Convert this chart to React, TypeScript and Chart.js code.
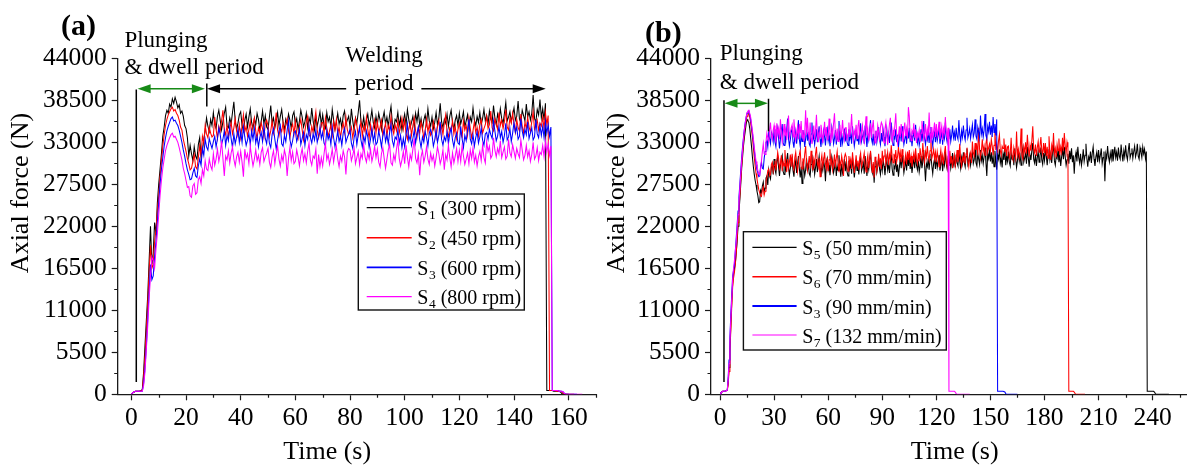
import React, { useEffect, useRef } from "react";
import { Chart, registerables } from "chart.js";

Chart.register(...registerables);

const SERIF = '"Liberation Serif", "Times New Roman", Times, serif';

// ---------------- shared axis ticks ----------------
const forceTicks = [0, 5500, 11000, 16500, 22000, 27500, 33000, 38500, 44000];
const forceMinor = [2750, 8250, 13750, 19250, 24750, 30250, 35750, 41250];

// sampling interval of every series below (s)
const SAMPLE_STEP = 0.5;

// ---------------- panel (a): rotational speed ----------------
const timeTicksA = [0, 20, 40, 60, 80, 100, 120, 140, 160];
const timeMinorA = [10, 30, 50, 70, 90, 110, 130, 150, 170];
const subsA = ["1", "2", "3", "4"];
const labelsA = ["(300 rpm)", "(450 rpm)", "(600 rpm)", "(800 rpm)"];

// axial force in kN, one sample every 0.5 s from t = 0 s
const forceS1 = [
  0, 0.2, 0.3, 0.4, 0.4, 0.4, 0.4, 0.5, 0.6, 3.0,
  6.5, 9.8, 13.0, 17.5, 22.0, 17.0, 18.5, 22.5, 21.0, 25.0,
  27.5, 29.5, 31.5, 33.8, 35.0, 36.5, 37.2, 36.8, 38.0, 37.6,
  38.7, 38.1, 38.9, 38.3, 37.5, 37.9, 36.8, 37.1, 36.4, 35.2,
  34.8, 33.6, 31.2, 32.6, 31.5, 30.6, 32.4, 31.2, 30.8, 32.7,
  33.6, 31.1, 31.9, 33.4, 34.5, 36.2, 35.1, 34.4, 36.0, 35.2,
  36.9, 35.3, 34.8, 36.4, 37.2, 35.9, 34.6, 35.7, 36.8, 37.6, 35.1, 34.9, 36.2, 35.4, 36.9, 38.3, 35.8, 34.7, 35.5, 36.6,
  37.0, 35.2, 34.5, 35.9, 36.7, 35.0, 36.3, 37.4, 35.6, 34.8, 36.1, 35.3, 36.8, 36.0, 34.6, 35.7, 37.1, 35.4, 36.5, 35.0,
  34.7, 36.3, 37.8, 35.5, 36.2, 34.9, 35.8, 36.9, 35.2, 36.4, 37.3, 35.6, 34.6, 36.0, 35.3, 36.7, 35.9, 34.8, 36.5, 37.0,
  35.4, 36.1, 34.7, 35.8, 37.2, 36.3, 35.0, 35.7, 36.8, 34.9, 36.2, 35.5, 37.5, 35.8, 34.6, 36.4, 35.1, 36.0, 37.0, 35.3,
  36.6, 35.2, 34.8, 36.9, 35.7, 36.3, 35.0, 37.3, 35.9, 34.7, 35.6, 36.8, 35.4, 36.1, 34.9, 36.5, 37.1, 35.3, 35.9, 36.4,
  35.0, 37.4, 35.8, 34.6, 36.2, 35.5, 36.9, 38.5, 35.7, 35.1, 36.3, 34.8, 35.9, 36.7, 35.2, 36.0, 37.2, 35.6, 34.9, 36.4,
  35.3, 36.8, 35.9, 34.7, 36.1, 37.0, 35.4, 36.3, 35.1, 36.6, 37.7, 35.5, 34.8, 36.0, 35.7, 36.9, 35.2, 36.2, 34.6, 35.8,
  36.7, 35.3, 37.3, 36.0, 34.9, 35.6, 36.4, 35.0, 36.8, 35.7, 37.1, 35.2, 36.1, 34.7, 35.9, 36.6, 35.4, 37.4, 35.8, 35.1,
  36.3, 34.8, 35.6, 36.9, 35.3, 36.2, 38.1, 35.7, 34.9, 36.0, 35.5, 36.7, 35.1, 36.4, 37.2, 35.6, 34.7, 35.9, 36.5, 35.2,
  36.8, 35.4, 36.1, 37.0, 35.0, 35.8, 36.6, 34.9, 36.3, 35.7, 37.5, 35.9, 35.2, 36.4, 35.6, 36.9, 35.3, 36.1, 37.3, 35.8,
  36.5, 35.4, 37.1, 36.0, 35.6, 37.8, 36.2, 35.3, 36.7, 35.9, 37.4, 36.1, 35.5, 36.8, 38.2, 35.8, 36.3, 37.0, 35.7, 36.6,
  37.5, 35.9, 36.4, 38.4, 36.0, 35.6, 37.2, 36.5, 35.8, 38.0, 36.3, 37.0, 35.9, 36.8, 39.2, 36.1, 35.7, 37.3, 36.6, 38.6,
  36.2, 37.4, 35.9, 38.1,
  0.5, 0.5, 0.5, 0.5, 0.5, 0.4, 0.4, 0.4, 0.4, 0.4, 0.3, 0.1, 0, 0, 0, 0, 0,
];
const forceS2 = [
  0, 0.2, 0.3, 0.4, 0.4, 0.4, 0.4, 0.5, 0.5, 2.5,
  5.0, 8.5, 12.0, 16.0, 19.5, 16.5, 17.0, 20.0, 21.5, 24.0,
  26.0, 28.5, 30.5, 32.5, 34.0, 35.2, 36.0, 36.6, 37.0, 37.4,
  37.6, 37.1, 37.3, 36.8, 36.5, 35.9, 35.0, 34.6, 33.4, 32.6,
  31.8, 30.9, 30.2, 29.4, 29.6, 30.5, 31.4, 29.8, 29.5, 31.0,
  32.5, 31.2, 33.8, 32.9, 35.2, 34.1, 33.6, 35.0, 34.2, 33.7,
  33.9, 36.3, 34.7, 33.5, 35.1, 34.4, 35.8, 37.2, 34.6, 34.0, 35.2, 33.7, 34.8, 35.6, 34.1, 34.9, 36.1, 34.5, 33.8, 35.3,
  33.6, 35.2, 36.6, 34.4, 35.1, 33.8, 34.7, 35.8, 34.1, 35.3, 36.2, 34.5, 33.5, 34.9, 34.2, 35.6, 34.8, 33.7, 35.4, 35.9,
  35.2, 33.7, 34.5, 35.8, 34.2, 35.1, 36.9, 34.6, 33.8, 34.9, 34.4, 35.6, 34.0, 35.3, 36.1, 34.5, 33.6, 34.8, 35.4, 34.1,
  35.8, 34.1, 33.5, 35.2, 36.0, 34.6, 33.3, 34.5, 35.7, 36.4, 34.0, 33.7, 35.1, 34.3, 35.8, 37.0, 34.6, 33.6, 34.4, 35.5,
  35.6, 34.2, 36.2, 34.9, 33.8, 34.5, 35.3, 33.9, 35.7, 34.6, 36.0, 34.1, 35.0, 33.6, 34.8, 35.5, 34.3, 36.3, 34.7, 34.0,
  34.3, 35.0, 33.6, 34.7, 36.1, 35.2, 33.9, 34.6, 35.7, 33.8, 35.1, 34.4, 36.3, 34.7, 33.5, 35.3, 34.0, 34.9, 35.9, 34.2,
  35.7, 34.3, 35.0, 35.9, 33.9, 34.7, 35.5, 33.8, 35.2, 34.6, 36.4, 34.8, 34.1, 35.3, 34.5, 35.8, 34.2, 35.0, 36.2, 34.7,
  35.9, 34.1, 33.4, 34.8, 35.6, 33.9, 35.2, 36.2, 34.5, 33.6, 35.0, 34.2, 35.7, 34.9, 33.5, 34.6, 36.0, 34.3, 35.4, 33.9,
  34.2, 35.7, 34.8, 33.6, 35.0, 35.9, 34.3, 35.2, 34.0, 35.5, 36.6, 34.4, 33.7, 34.9, 34.6, 35.8, 34.1, 35.1, 33.5, 34.7,
  35.5, 34.1, 33.7, 35.8, 34.6, 35.2, 33.9, 36.2, 34.8, 33.6, 34.5, 35.7, 34.3, 35.0, 33.8, 35.4, 36.0, 34.2, 34.8, 35.3,
  36.4, 34.8, 35.3, 37.1, 34.9, 34.5, 36.1, 35.4, 34.7, 36.9, 35.2, 35.9, 34.8, 35.7, 37.3, 35.0, 34.6, 36.2, 35.5, 36.8,
  35.4, 34.3, 36.0, 34.9, 34.5, 36.7, 35.1, 34.2, 35.6, 34.8, 36.3, 35.0, 34.4, 35.7, 37.0, 34.7, 35.2, 35.9, 34.6, 35.5,
  35.1, 36.3, 34.8, 36.9, 35.4, 36.5,
  0.5, 0.5, 0.5, 0.5, 0.5, 0.4, 0.4, 0.4, 0.4, 0.3, 0.1, 0, 0, 0, 0, 0, 0, 0, 0,
];
const forceS3a = [
  0, 0.2, 0.3, 0.4, 0.4, 0.4, 0.4, 0.4, 0.4, 1.5,
  3.5, 6.5, 10.0, 13.5, 17.0, 15.0, 15.5, 18.0, 20.0, 22.5,
  25.0, 27.5, 29.5, 31.0, 32.5, 33.6, 34.5, 35.1, 35.6, 36.1,
  36.3, 35.8, 35.9, 35.5, 35.2, 34.6, 33.8, 33.0, 32.0, 31.2,
  30.2, 29.4, 28.8, 28.1, 28.2, 29.0, 29.6, 28.6, 28.4, 29.9,
  30.8, 30.0, 32.2, 31.3, 33.4, 32.4, 32.0, 33.5, 32.8, 32.2,
  33.1, 33.8, 32.4, 33.5, 34.9, 34.0, 32.7, 33.4, 34.5, 32.6, 33.9, 33.2, 35.1, 33.5, 32.3, 34.1, 32.8, 33.7, 34.7, 33.0,
  34.4, 33.0, 35.0, 33.7, 32.6, 33.3, 34.1, 32.7, 34.5, 33.4, 34.8, 32.9, 33.8, 32.4, 33.6, 34.3, 33.1, 35.1, 33.5, 32.8,
  34.6, 32.9, 32.3, 34.0, 34.8, 33.4, 32.1, 33.3, 34.5, 35.2, 32.8, 32.5, 33.9, 33.1, 34.6, 35.8, 33.4, 32.4, 33.2, 34.3,
  34.5, 33.1, 33.8, 34.7, 32.7, 33.5, 34.3, 32.6, 34.0, 33.4, 35.2, 33.6, 32.9, 34.1, 33.3, 34.6, 33.0, 33.8, 35.0, 33.5,
  34.3, 32.9, 32.5, 34.6, 33.4, 34.0, 32.7, 35.0, 33.6, 32.4, 33.3, 34.5, 33.1, 33.8, 32.6, 34.2, 34.8, 33.0, 33.6, 34.1,
  34.7, 32.9, 32.2, 33.6, 34.4, 32.7, 34.0, 35.0, 33.3, 32.4, 33.8, 33.0, 34.5, 33.7, 32.3, 33.4, 34.8, 33.1, 34.2, 32.7,
  33.0, 34.5, 33.6, 32.4, 33.8, 34.7, 33.1, 34.0, 32.8, 34.3, 35.4, 33.2, 32.5, 33.7, 33.4, 34.6, 32.9, 33.9, 32.3, 33.5,
  32.4, 34.0, 35.4, 33.2, 33.9, 32.6, 33.5, 34.6, 32.9, 34.1, 35.0, 33.3, 32.3, 33.7, 33.0, 34.4, 33.6, 32.5, 34.2, 34.7,
  34.0, 32.5, 33.3, 34.6, 33.0, 33.9, 35.7, 33.4, 32.6, 33.7, 33.2, 34.4, 32.8, 34.1, 34.9, 33.3, 32.4, 33.6, 34.2, 32.9,
  32.7, 35.1, 33.5, 32.3, 33.9, 33.2, 34.6, 36.0, 33.4, 32.8, 34.0, 32.5, 33.6, 34.4, 32.9, 33.7, 34.9, 33.3, 32.6, 34.1,
  34.3, 33.4, 34.7, 34.0, 33.5, 35.8, 34.5, 33.2, 33.8, 35.1, 33.6, 34.4, 33.0, 33.9, 35.5, 33.3, 33.7, 34.8, 33.1, 34.2,
  35.6, 34.3, 35.0, 33.4, 33.8, 36.1, 34.5, 33.6, 34.7, 34.0, 35.7, 33.5, 34.2, 34.9, 33.3, 33.7, 35.9, 34.1, 33.6, 35.2,
  33.9, 35.1, 33.6, 35.7, 34.2, 35.3, 33.8, 35.0,
  0.5, 0.5, 0.5, 0.5, 0.5, 0.4, 0.4, 0.4, 0.3, 0.1, 0, 0, 0, 0, 0, 0, 0, 0, 0,
];
const forceS4 = [
  0, 0.2, 0.3, 0.4, 0.4, 0.4, 0.4, 0.4, 0.4, 1.2,
  3.0, 6.0, 9.0, 12.5, 15.5, 18.0, 17.5, 16.5, 19.0, 21.0,
  23.5, 26.0, 28.0, 29.6, 30.8, 31.9, 32.6, 33.1, 33.6, 34.0,
  34.2, 33.7, 33.8, 33.4, 33.0, 32.3, 31.5, 30.7, 29.6, 28.9,
  28.0, 27.1, 27.2, 26.0, 25.8, 27.3, 27.6, 26.2, 26.4, 28.1,
  28.5, 27.6, 29.4, 28.6, 30.6, 29.5, 29.3, 30.8, 29.9, 29.4,
  31.5, 30.0, 30.8, 32.1, 30.5, 31.4, 33.2, 30.9, 28.6, 31.2, 30.7, 31.9, 30.3, 31.6, 32.4, 30.8, 29.9, 31.1, 31.7, 30.4,
  31.8, 30.4, 28.5, 32.1, 30.9, 31.5, 30.2, 32.5, 31.1, 29.9, 30.8, 32.0, 30.6, 31.3, 30.1, 31.7, 32.3, 30.5, 31.1, 31.6,
  32.2, 30.4, 29.7, 31.1, 31.9, 30.2, 31.5, 32.5, 30.8, 29.9, 31.3, 30.5, 32.0, 31.2, 28.6, 30.9, 32.3, 30.6, 31.7, 30.2,
  30.5, 32.0, 31.1, 29.9, 31.3, 32.2, 30.6, 31.5, 30.3, 31.8, 32.9, 30.7, 30.0, 31.2, 30.9, 32.1, 28.9, 31.4, 29.8, 31.0,
  29.9, 31.5, 32.9, 30.7, 31.4, 30.1, 31.0, 32.1, 30.4, 31.6, 32.5, 30.8, 29.8, 31.2, 30.5, 31.9, 31.1, 28.8, 31.7, 32.2,
  32.0, 30.6, 31.3, 32.2, 30.2, 31.0, 31.8, 30.1, 31.5, 30.9, 32.7, 31.1, 30.4, 31.6, 30.8, 32.1, 30.5, 31.3, 32.5, 31.0,
  32.1, 30.4, 29.8, 31.5, 32.3, 30.9, 29.6, 30.8, 32.0, 32.7, 30.3, 30.0, 31.4, 30.6, 32.1, 33.3, 30.9, 29.9, 30.7, 31.8,
  30.2, 32.6, 31.0, 29.8, 31.4, 30.7, 32.1, 33.5, 30.9, 30.3, 31.5, 28.7, 31.1, 31.9, 30.4, 31.2, 32.4, 30.8, 30.1, 31.6,
  30.6, 31.3, 29.9, 31.0, 32.4, 31.5, 30.2, 30.9, 32.0, 29.4, 31.4, 30.7, 32.6, 31.0, 29.8, 31.6, 30.3, 31.2, 32.2, 30.5,
  31.9, 30.5, 32.5, 31.2, 30.1, 30.8, 31.6, 30.2, 32.0, 30.9, 32.3, 30.4, 31.3, 29.9, 31.1, 31.8, 30.6, 32.6, 31.0, 30.3,
  33.1, 31.8, 32.5, 30.9, 31.3, 33.6, 32.0, 31.1, 32.2, 31.5, 33.2, 31.0, 31.7, 32.4, 30.8, 31.2, 33.4, 31.6, 31.1, 32.7,
  31.8, 30.9, 32.2, 31.5, 31.0, 33.3, 32.0, 30.7, 31.3, 32.6, 31.1, 31.9, 30.5, 31.4, 33.0, 30.8, 31.2, 32.3, 30.6, 31.7,
  31.4, 32.6, 31.1, 33.2, 31.7, 32.8, 31.3, 32.5,
  0.5, 0.5, 0.5, 0.5, 0.5, 0.4, 0.4, 0.4, 0.3, 0.1, 0, 0, 0, 0, 0, 0, 0, 0, 0, 0, 0, 0, 0,
];

// ---------------- panel (b): traverse speed ----------------
const timeTicksB = [0, 30, 60, 90, 120, 150, 180, 210, 240];
const timeMinorB = [15, 45, 75, 105, 135, 165, 195, 225, 255];
const subsB = ["5", "6", "3", "7"];
const labelsB = ["(50 mm/min)", "(70 mm/min)", "(90 mm/min)", "(132 mm/min)"];

const forceS5 = [
  0, 0.2, 0.3, 0.4, 0.4, 0.4, 0.4, 0.5, 0.5, 1.5,
  3.5, 6.0, 9.0, 12.0, 14.5, 15.8, 16.5, 17.2, 18.5, 20.0,
  22.0, 23.8, 25.5, 27.5, 29.5, 31.0, 32.5, 33.6, 34.5, 35.4,
  36.0, 35.8, 35.6, 34.8, 33.6, 32.4, 31.0, 29.8, 28.8, 28.0,
  27.4, 26.6, 26.0, 25.1, 25.2, 26.7, 26.4, 27.3, 27.8, 26.5,
  27.0, 28.3, 28.6, 27.4, 29.4, 28.6, 28.2, 29.7, 30.1, 28.8,
  30.8, 29.4, 28.9, 30.5, 31.1, 29.7, 28.6, 29.9, 30.9, 31.3, 29.2, 28.8, 30.3, 29.5, 30.7, 31.6, 29.8, 28.7, 29.6, 30.6,
  31.0, 29.3, 28.5, 29.9, 30.6, 29.0, 30.2, 31.2, 29.6, 28.4, 29.8, 27.6, 30.5, 29.7, 28.6, 29.4, 30.9, 29.2, 30.3, 28.9,
  28.6, 30.1, 31.4, 29.5, 30.2, 28.8, 29.7, 30.8, 29.1, 30.3, 31.2, 29.6, 28.5, 29.9, 29.3, 30.6, 29.8, 27.9, 30.4, 30.9,
  29.4, 30.0, 28.7, 29.8, 31.1, 30.3, 29.0, 29.6, 30.7, 28.6, 29.9, 29.3, 31.3, 29.7, 28.5, 30.2, 29.0, 29.8, 30.8, 29.2,
  30.5, 29.1, 28.6, 30.6, 29.6, 30.2, 28.9, 31.0, 29.7, 28.4, 29.5, 30.7, 29.3, 30.0, 28.8, 30.4, 31.0, 29.2, 29.7, 30.3,
  28.9, 31.2, 29.8, 28.6, 30.1, 29.4, 30.8, 31.7, 29.6, 29.0, 30.2, 27.7, 29.8, 30.6, 29.1, 29.9, 31.0, 29.5, 28.8, 30.3,
  29.3, 30.7, 29.9, 28.7, 30.0, 30.9, 29.4, 30.2, 29.0, 30.5, 31.4, 29.5, 28.7, 29.9, 29.6, 30.8, 29.1, 30.1, 28.5, 29.7,
  30.9, 29.6, 31.3, 30.2, 29.0, 29.8, 30.6, 29.3, 31.0, 29.9, 31.2, 29.5, 30.4, 29.0, 30.1, 30.8, 29.6, 31.4, 30.0, 29.4,
  30.6, 29.1, 29.9, 31.2, 29.6, 30.4, 32.0, 29.9, 27.9, 30.2, 29.8, 30.9, 29.4, 30.7, 31.5, 29.9, 28.9, 30.2, 30.8, 29.5,
  31.1, 29.7, 30.4, 31.3, 29.3, 30.1, 30.9, 29.2, 30.6, 30.0, 31.8, 30.2, 29.5, 30.7, 29.9, 31.2, 29.6, 30.4, 31.6, 30.1,
  30.8, 29.7, 31.4, 30.3, 29.9, 32.0, 30.5, 29.6, 31.0, 30.2, 31.7, 30.4, 29.8, 31.1, 32.2, 30.1, 30.6, 31.3, 30.0, 30.9,
  31.6, 30.2, 30.7, 32.1, 30.3, 29.9, 31.5, 30.8, 30.1, 32.0, 30.6, 31.3, 30.2, 31.1, 32.3, 30.4, 28.6, 31.6, 30.9, 31.9,
  30.5, 31.7, 30.2, 31.2, 29.8, 31.9, 30.6, 29.4, 31.4, 30.8, 32.1, 30.3, 31.0, 29.7, 31.5, 30.7, 32.4, 30.0, 31.2, 30.5,
  31.8, 30.4, 29.9, 31.6, 30.8, 31.3, 30.0, 32.2, 30.9, 29.7, 30.6, 31.9, 30.5, 31.2, 30.0, 31.6, 32.3, 30.4, 31.0, 31.5,
  30.2, 32.4, 31.0, 29.8, 31.3, 30.7, 32.0, 32.9, 30.8, 30.3, 31.4, 29.9, 31.0, 31.8, 30.4, 31.2, 32.3, 30.7, 30.1, 31.6,
  30.6, 32.0, 31.2, 30.0, 31.3, 32.1, 30.7, 31.5, 30.3, 31.8, 32.6, 30.6, 30.0, 31.2, 30.9, 32.0, 30.4, 31.4, 29.9, 31.1,
  32.1, 30.8, 32.4, 31.1, 30.0, 30.7, 31.5, 30.2, 31.9, 30.8, 32.2, 30.4, 31.3, 28.9, 31.0, 31.7, 30.5, 32.4, 31.0, 30.3,
  31.5, 30.0, 30.8, 32.1, 30.5, 31.3, 32.8, 30.9, 29.8, 31.1, 30.7, 31.8, 30.3, 31.6, 32.4, 30.8, 29.9, 31.1, 31.7, 30.4,
  32.0, 30.6, 31.3, 32.2, 30.2, 31.0, 31.8, 27.9, 31.5, 30.9, 32.5, 31.1, 30.4, 31.6, 30.8, 32.1, 30.5, 31.3, 32.4, 31.0,
  31.7, 30.6, 32.3, 31.2, 30.8, 32.7, 31.4, 30.5, 31.9, 31.1, 32.6, 31.3, 30.7, 32.0, 32.9, 31.0, 31.5, 32.2, 30.9, 31.8,
  32.5, 31.1, 31.6, 32.8, 31.2, 30.8, 32.3, 31.7, 31.0, 32.4, 31.5, 32.1, 30.9, 31.8,
  0.4, 0.4, 0.4, 0.4, 0.4, 0.4, 0.4, 0.4, 0.3, 0.1, 0, 0, 0, 0, 0, 0, 0, 0, 0, 0, 0, 0, 0, 0, 0,
];
const forceS6 = [
  0, 0.2, 0.3, 0.4, 0.4, 0.4, 0.4, 0.5, 0.5, 1.2,
  3.0, 5.5, 8.5, 11.5, 14.0, 15.2, 16.0, 17.0, 18.5, 20.5,
  22.5, 24.3, 26.0, 28.0, 30.0, 31.6, 33.0, 34.2, 35.2, 35.9,
  36.4, 36.6, 36.8, 36.3, 35.5, 34.6, 33.6, 32.3, 31.0, 29.9,
  28.9, 28.2, 27.5, 26.8, 26.4, 26.0, 25.9, 26.8, 27.2, 26.1,
  26.6, 27.9, 28.4, 29.3, 29.5, 28.6, 28.8, 30.1, 30.4, 29.2,
  30.0, 30.6, 29.3, 30.4, 31.7, 30.9, 29.6, 30.2, 31.3, 29.2, 30.5, 29.9, 32.0, 30.3, 29.1, 30.8, 29.6, 30.4, 31.4, 29.8,
  31.5, 29.9, 29.4, 31.0, 31.7, 30.3, 29.2, 30.4, 31.4, 32.0, 29.8, 29.5, 30.9, 30.1, 31.5, 32.5, 30.4, 29.3, 30.2, 31.2,
  29.6, 31.9, 30.5, 29.3, 30.8, 30.1, 31.5, 32.4, 30.3, 29.7, 30.9, 28.5, 30.5, 31.3, 29.8, 30.6, 31.7, 30.2, 29.5, 31.0,
  29.2, 30.7, 32.1, 30.1, 30.8, 29.4, 30.3, 31.4, 29.7, 30.9, 31.8, 30.2, 29.1, 30.5, 29.9, 31.2, 30.4, 28.6, 31.0, 31.5,
  31.1, 29.7, 29.2, 31.2, 30.2, 30.8, 29.5, 31.7, 30.3, 29.0, 30.1, 31.3, 29.9, 30.6, 29.4, 31.0, 31.6, 29.8, 30.3, 30.9,
  31.6, 29.9, 29.1, 30.5, 31.3, 29.6, 30.8, 31.9, 30.2, 29.0, 30.4, 28.4, 31.1, 30.3, 29.2, 30.0, 31.5, 29.8, 30.9, 29.5,
  31.9, 30.5, 31.2, 32.1, 30.1, 30.9, 31.7, 30.0, 31.4, 30.8, 32.6, 31.0, 30.3, 31.5, 30.7, 32.0, 30.4, 31.2, 32.4, 30.9,
  31.7, 30.4, 32.1, 31.0, 29.8, 30.6, 31.4, 30.1, 31.8, 30.7, 32.0, 30.3, 31.2, 29.8, 30.9, 31.6, 30.4, 32.2, 30.8, 30.2,
  31.6, 30.5, 32.2, 31.1, 30.7, 32.9, 31.3, 30.4, 31.8, 31.0, 32.5, 31.2, 30.6, 31.9, 33.3, 30.9, 31.4, 32.1, 30.8, 31.7,
  30.4, 31.8, 31.0, 29.8, 31.1, 32.0, 30.5, 31.3, 30.1, 31.6, 32.5, 30.6, 29.8, 31.0, 30.7, 31.9, 30.2, 31.2, 29.6, 30.8,
  31.4, 29.9, 30.7, 32.0, 30.4, 31.2, 32.8, 30.7, 29.9, 31.0, 30.6, 31.7, 30.2, 31.5, 32.3, 30.7, 29.8, 31.0, 31.6, 30.3,
  33.1, 31.6, 31.2, 32.9, 32.0, 32.6, 31.3, 34.9, 32.1, 31.0, 31.9, 33.4, 31.8, 32.5, 31.3, 32.8, 33.6, 31.7, 32.3, 32.8,
  31.9, 33.4, 32.5, 31.3, 32.6, 34.6, 32.0, 32.8, 31.6, 33.2, 34.0, 31.9, 31.3, 32.5, 32.2, 33.5, 31.7, 32.7, 31.2, 32.4,
  32.5, 31.0, 31.5, 33.6, 31.1, 30.7, 32.3, 31.6, 30.9, 34.4, 31.4, 32.1, 31.0, 31.9, 34.8, 31.2, 30.8, 32.4, 31.7, 33.0,
  31.5, 34.0, 32.3, 31.1, 32.6, 31.9, 33.3, 35.1, 32.1, 31.6, 32.7, 31.2, 32.3, 33.1, 31.7, 32.5, 33.7, 32.0, 31.4, 32.9,
  31.6, 32.9, 31.2, 32.4, 30.9, 33.8, 31.8, 30.7, 32.6, 31.9, 34.2, 31.5, 32.2, 31.0, 32.7, 31.9, 33.5, 31.3, 32.4, 31.7,
  33.6, 31.9, 34.2, 32.5, 31.6, 33.0, 32.3,
  0.4, 0.4, 0.4, 0.4, 0.4, 0.4, 0.3, 0.1, 0, 0, 0, 0, 0, 0, 0, 0, 0, 0, 0, 0,
];
const forceS3b = [
  0, 0.2, 0.3, 0.4, 0.4, 0.4, 0.4, 0.5, 0.5, 2.0,
  4.5, 7.5, 10.5, 13.0, 15.5, 16.2, 17.0, 18.8, 20.5, 22.2,
  24.0, 25.8, 27.5, 29.3, 31.0, 32.4, 33.6, 34.7, 35.6, 36.3,
  36.8, 37.0, 37.1, 36.6, 36.0, 35.1, 34.2, 33.1, 32.0, 31.0,
  30.1, 29.4, 29.0, 28.5, 28.6, 29.8, 30.4, 29.6, 29.5, 30.9,
  31.8, 33.0, 33.2, 32.4, 34.4, 33.5, 32.8, 34.3, 34.0, 33.1,
  34.7, 33.0, 32.4, 34.1, 34.9, 33.5, 32.2, 33.4, 34.6, 35.4, 32.9, 32.6, 34.0, 33.2, 34.7, 36.1, 33.5, 32.5, 33.3, 34.4,
  34.8, 33.0, 32.3, 33.7, 34.5, 32.8, 34.1, 35.9, 33.4, 32.5, 33.9, 33.1, 34.6, 33.8, 32.4, 33.5, 34.9, 33.2, 34.3, 32.8,
  32.5, 34.1, 35.6, 33.3, 34.0, 32.7, 33.6, 34.7, 33.0, 34.2, 35.1, 33.4, 32.4, 33.8, 33.1, 34.5, 33.7, 32.6, 34.3, 34.8,
  33.2, 33.9, 32.5, 33.6, 35.0, 34.1, 32.8, 33.5, 34.6, 32.7, 34.0, 33.3, 35.8, 33.6, 32.4, 34.2, 32.9, 33.8, 34.8, 33.1,
  34.4, 33.0, 32.6, 34.7, 33.5, 34.1, 32.8, 35.1, 33.7, 32.5, 33.4, 34.6, 33.2, 33.9, 32.7, 34.3, 35.5, 33.1, 33.7, 34.2,
  32.8, 35.2, 33.6, 32.4, 34.0, 33.3, 34.7, 35.9, 33.5, 32.9, 34.1, 32.6, 33.7, 34.5, 33.0, 33.8, 35.0, 33.4, 32.7, 34.2,
  33.1, 34.6, 33.7, 32.5, 33.9, 34.8, 33.2, 34.1, 32.9, 34.4, 35.6, 33.3, 32.6, 33.8, 33.5, 34.7, 33.0, 34.0, 32.4, 33.6,
  34.5, 33.1, 35.1, 33.8, 32.7, 33.4, 34.2, 32.8, 34.6, 33.5, 34.9, 33.0, 33.9, 32.5, 33.7, 34.4, 33.2, 35.3, 33.6, 32.9,
  34.1, 32.6, 33.4, 34.7, 33.1, 34.0, 35.8, 33.5, 32.7, 33.8, 33.3, 34.5, 32.9, 34.2, 35.0, 33.4, 32.5, 33.7, 34.3, 33.0,
  34.6, 33.2, 33.9, 34.8, 32.8, 33.6, 34.4, 32.7, 34.1, 33.5, 35.6, 33.7, 33.0, 34.2, 33.4, 34.7, 33.1, 33.9, 35.2, 33.6,
  34.3, 33.2, 34.9, 33.8, 33.4, 35.9, 34.0, 33.1, 34.5, 33.7, 35.2, 33.9, 33.3, 34.6, 36.2, 33.6, 34.1, 34.8, 33.5, 34.4,
  35.3, 33.7, 34.2, 36.0, 33.8, 33.4, 35.0, 34.3, 33.6, 36.5, 34.1, 34.8, 33.7, 34.6, 36.7, 33.9, 33.5, 35.1, 34.4, 35.7,
  34.0, 35.2, 33.7, 36.3, 34.3, 35.4, 33.9, 36.0,
  0.4, 0.4, 0.4, 0.4, 0.4, 0.4, 0.4, 0.4, 0.3, 0.1, 0, 0, 0, 0, 0, 0, 0, 0, 0, 0, 0, 0, 0,
];
const forceS7 = [
  0, 0.2, 0.3, 0.4, 0.4, 0.4, 0.4, 0.5, 0.5, 1.8,
  4.0, 7.0, 10.0, 12.5, 15.0, 16.5, 17.5, 18.8, 20.0, 21.8,
  23.5, 25.2, 27.0, 28.8, 30.5, 32.0, 33.4, 34.6, 35.5, 36.3,
  36.9, 37.1, 37.2, 36.8, 36.3, 35.4, 34.5, 33.5, 32.4, 31.4,
  30.5, 29.8, 29.3, 28.9, 28.7, 29.5, 30.6, 31.8, 32.8, 31.5,
  31.4, 33.0, 34.2, 33.6, 33.0, 34.6, 35.6, 33.9, 33.4, 34.6,
  35.2, 33.6, 33.1, 35.5, 34.1, 34.8, 33.4, 36.0, 34.4, 33.0, 34.0, 35.4, 33.8, 34.6, 33.3, 35.1, 36.5, 33.7, 34.3, 34.9,
  35.3, 33.7, 36.0, 34.5, 33.3, 34.1, 35.0, 33.4, 35.4, 34.2, 35.8, 33.6, 34.6, 33.1, 34.4, 37.2, 33.9, 36.2, 34.3, 33.5,
  35.6, 33.6, 32.8, 34.3, 35.2, 33.3, 34.7, 36.6, 34.0, 33.0, 34.5, 33.7, 35.3, 34.4, 32.9, 34.1, 35.7, 33.8, 35.0, 33.3,
  33.4, 36.1, 34.3, 32.9, 34.7, 33.9, 35.5, 36.8, 34.1, 33.5, 34.8, 33.1, 34.4, 35.3, 33.6, 34.5, 35.9, 34.0, 33.3, 34.9,
  34.9, 33.2, 34.1, 35.6, 33.7, 34.7, 36.7, 34.2, 33.3, 34.5, 34.0, 35.3, 33.5, 35.0, 35.9, 34.1, 33.1, 34.4, 35.2, 33.6,
  33.0, 34.8, 36.4, 33.9, 34.7, 33.2, 34.2, 35.5, 33.6, 34.9, 35.9, 34.0, 32.9, 34.5, 33.7, 35.2, 34.3, 33.1, 35.0, 35.6,
  35.3, 33.6, 32.9, 34.8, 35.6, 34.0, 32.7, 34.1, 35.4, 36.2, 33.5, 33.1, 34.6, 33.8, 35.3, 36.8, 34.1, 32.9, 33.9, 35.1,
  33.7, 35.4, 34.4, 33.0, 34.6, 35.6, 33.8, 34.8, 33.5, 37.6, 36.4, 33.9, 33.2, 34.5, 34.2, 35.5, 33.6, 34.7, 32.9, 34.2,
  33.8, 34.6, 33.0, 34.2, 35.8, 34.8, 33.4, 34.1, 35.4, 33.2, 34.7, 33.9, 36.9, 34.2, 32.9, 35.0, 33.5, 34.5, 35.6, 33.7,
  35.4, 33.9, 34.6, 35.7, 33.4, 34.3, 35.1, 33.3, 34.8, 34.2, 36.3, 34.4, 33.7, 34.9,
  0.4, 0.4, 0.4, 0.4, 0.4, 0.4, 0.4, 0.3, 0.1, 0, 0, 0, 0, 0, 0, 0, 0, 0, 0, 0, 0, 0, 0, 0,
];

// ---------------- layout / style configuration ----------------
type Series = { data: number[]; color: string; sub: string; label: string; legendWidth: number };

type Panel = {
  left: number;
  width: number;
  height: number;
  area: { left: number; right: number; top: number; bottom: number };
  xMin: number;
  xMax: number;
  xTicks: number[];
  xMinor: number[];
  series: Series[];
  legend: { x0: number; y0: number; x1: number; y1: number; lx0: number; lx1: number; tx: number; rows: number[] };
  letter: { text: string; x: number; y: number };
  plunge: { x: number; y1: number; y2: number };
  xTitle: { x: number; y: number };
  yTitle: { x: number; y: number };
  startLine: { x: number; y0: number; y1: number };
  green: { x0: number; x1: number; y: number };
  endLine: { x: number; y0: number; y1: number };
  welding?: { x0: number; x1: number; y: number; gap0: number; gap1: number; tx: number; ty1: number; ty2: number };
};

const panelA: Panel = {
  left: 0,
  width: 600,
  height: 465,
  area: { left: 117.7, right: 596, top: 58.3, bottom: 394.3 },
  xMin: -5,
  xMax: 170,
  xTicks: timeTicksA,
  xMinor: timeMinorA,
  series: [
    { data: forceS1, color: "#000000", sub: subsA[0], label: labelsA[0], legendWidth: 1.2 },
    { data: forceS2, color: "#ff0000", sub: subsA[1], label: labelsA[1], legendWidth: 1.5 },
    { data: forceS3a, color: "#0000ff", sub: subsA[2], label: labelsA[2], legendWidth: 1.8 },
    { data: forceS4, color: "#ff00ff", sub: subsA[3], label: labelsA[3], legendWidth: 1.2 },
  ],
  legend: { x0: 358.3, y0: 194, x1: 524.3, y1: 310, lx0: 366.7, lx1: 411.7, tx: 417.3, rows: [207.7, 237.7, 267.3, 296.7] },
  letter: { text: "(a)", x: 61, y: 35 },
  plunge: { x: 124.4, y1: 47, y2: 74 },
  xTitle: { x: 327.2, y: 451.7 },
  yTitle: { x: 21, y: 193 },
  startLine: { x: 1.8, y0: 1600, y1: 39900 },
  green: { x0: 2.3, x1: 26.9, y: 40000 },
  endLine: { x: 27.6, y0: 37700, y1: 40700 },
  welding: { x0: 27.7, x1: 151.6, y: 40000, gap0: 78.6, gap1: 106.1, tx: 384, ty1: 62, ty2: 90 },
};

const panelB: Panel = {
  left: 600,
  width: 587,
  height: 465,
  area: { left: 111, right: 586, top: 58.3, bottom: 394.3 },
  xMin: -5,
  xMax: 258.5,
  xTicks: timeTicksB,
  xMinor: timeMinorB,
  series: [
    { data: forceS5, color: "#000000", sub: subsB[0], label: labelsB[0], legendWidth: 1.2 },
    { data: forceS6, color: "#ff0000", sub: subsB[1], label: labelsB[1], legendWidth: 1.5 },
    { data: forceS3b, color: "#0000ff", sub: subsB[2], label: labelsB[2], legendWidth: 1.8 },
    { data: forceS7, color: "#ff00ff", sub: subsB[3], label: labelsB[3], legendWidth: 1.2 },
  ],
  legend: { x0: 143.4, y0: 231.7, x1: 346.3, y1: 350, lx0: 152.4, lx1: 196.6, tx: 202.2, rows: [247.3, 276.7, 306, 335] },
  letter: { text: "(b)", x: 45, y: 42 },
  plunge: { x: 119.8, y1: 60, y2: 89 },
  xTitle: { x: 354.7, y: 451.7 },
  yTitle: { x: 16.8, y: 193 },
  startLine: { x: 2.2, y0: 1600, y1: 38500 },
  green: { x0: 2.5, x1: 26.6, y: 38100 },
  endLine: { x: 26.9, y0: 34400, y1: 38700 },
};

const AXIS_COLOR = "#1a1a1a";
const GREEN = "#178a17";

function arrowHead(ctx: CanvasRenderingContext2D, tipX: number, y: number, dir: number, color: string) {
  ctx.fillStyle = color;
  ctx.beginPath();
  ctx.moveTo(tipX, y);
  ctx.lineTo(tipX - dir * 13, y - 4.5);
  ctx.lineTo(tipX - dir * 13, y + 4.5);
  ctx.closePath();
  ctx.fill();
}

function makeDecor(p: Panel) {
  return {
    id: "decor",
    afterDraw(chart: any) {
      const ctx: CanvasRenderingContext2D = chart.ctx;
      const xs = chart.scales.x;
      const ys = chart.scales.y;
      const X = (v: number) => xs.getPixelForValue(v);
      const Y = (v: number) => ys.getPixelForValue(v);
      ctx.save();

      // minor ticks
      ctx.strokeStyle = AXIS_COLOR;
      ctx.lineWidth = 1.2;
      ctx.beginPath();
      for (const v of p.xMinor) {
        const px = Math.round(X(v)) + 0.5;
        ctx.moveTo(px, ys.bottom);
        ctx.lineTo(px, ys.bottom + 3.5);
      }
      for (const v of forceMinor) {
        const py = Math.round(Y(v)) + 0.5;
        ctx.moveTo(xs.left, py);
        ctx.lineTo(xs.left - 3.5, py);
      }
      ctx.stroke();

      // plunging & dwell bracket
      ctx.strokeStyle = "#000";
      ctx.lineWidth = 1.5;
      ctx.beginPath();
      ctx.moveTo(X(p.startLine.x), Y(p.startLine.y0));
      ctx.lineTo(X(p.startLine.x), Y(p.startLine.y1));
      ctx.moveTo(X(p.endLine.x), Y(p.endLine.y0));
      ctx.lineTo(X(p.endLine.x), Y(p.endLine.y1));
      ctx.stroke();

      const gy = Y(p.green.y);
      const gx0 = X(p.green.x0);
      const gx1 = X(p.green.x1);
      ctx.strokeStyle = GREEN;
      ctx.lineWidth = 1.5;
      ctx.beginPath();
      ctx.moveTo(gx0 + 8, gy);
      ctx.lineTo(gx1 - 8, gy);
      ctx.stroke();
      arrowHead(ctx, gx0, gy, -1, GREEN);
      arrowHead(ctx, gx1, gy, 1, GREEN);

      ctx.fillStyle = "#000";
      ctx.textBaseline = "alphabetic";
      ctx.textAlign = "left";
      ctx.font = `23px ${SERIF}`;
      ctx.fillText("Plunging", p.plunge.x, p.plunge.y1);
      ctx.fillText("& dwell period", p.plunge.x, p.plunge.y2);

      if (p.welding) {
        const w = p.welding;
        const wy = Y(w.y);
        const wx0 = X(w.x0);
        const wx1 = X(w.x1);
        ctx.strokeStyle = "#000";
        ctx.lineWidth = 1.5;
        ctx.beginPath();
        ctx.moveTo(wx0 + 8, wy);
        ctx.lineTo(X(w.gap0), wy);
        ctx.moveTo(X(w.gap1), wy);
        ctx.lineTo(wx1 - 8, wy);
        ctx.stroke();
        arrowHead(ctx, wx0, wy, -1, "#000");
        arrowHead(ctx, wx1, wy, 1, "#000");
        ctx.fillStyle = "#000";
        ctx.textAlign = "center";
        ctx.font = `23px ${SERIF}`;
        ctx.fillText("Welding", w.tx, w.ty1);
        ctx.fillText("period", w.tx, w.ty2);
      }

      // panel letter
      ctx.textAlign = "left";
      ctx.font = `bold 30px ${SERIF}`;
      ctx.fillText(p.letter.text, p.letter.x, p.letter.y);

      // axis titles
      ctx.font = `26px ${SERIF}`;
      ctx.textAlign = "center";
      ctx.textBaseline = "middle";
      ctx.fillText("Time (s)", p.xTitle.x, p.xTitle.y);
      ctx.save();
      ctx.translate(p.yTitle.x, p.yTitle.y);
      ctx.rotate(-Math.PI / 2);
      ctx.fillText("Axial force (N)", 0, 0);
      ctx.restore();

      // legend
      const L = p.legend;
      ctx.fillStyle = "#fff";
      ctx.fillRect(L.x0, L.y0, L.x1 - L.x0, L.y1 - L.y0);
      ctx.strokeStyle = "#111";
      ctx.lineWidth = 1.4;
      ctx.strokeRect(L.x0, L.y0, L.x1 - L.x0, L.y1 - L.y0);
      p.series.forEach((s, i) => {
        const ry = L.rows[i];
        ctx.strokeStyle = s.color;
        ctx.lineWidth = s.legendWidth;
        ctx.beginPath();
        ctx.moveTo(L.lx0, ry);
        ctx.lineTo(L.lx1, ry);
        ctx.stroke();
        ctx.fillStyle = "#000";
        ctx.textAlign = "left";
        ctx.textBaseline = "alphabetic";
        ctx.font = `20px ${SERIF}`;
        ctx.fillText("S", L.tx, ry + 7.5);
        const sw = ctx.measureText("S").width;
        ctx.font = `13.5px ${SERIF}`;
        ctx.fillText(s.sub, L.tx + sw + 0.5, ry + 11.5);
        const subw = ctx.measureText(s.sub).width;
        ctx.font = `20px ${SERIF}`;
        ctx.fillText(" " + s.label, L.tx + sw + 0.5 + subw, ry + 7.5);
      });

      ctx.restore();
    },
  };
}

function buildConfig(p: Panel): any {
  const order = [4, 3, 2, 1];
  return {
    type: "line",
    data: {
      datasets: p.series.map((s, i) => ({
        label: s.sub,
        data: s.data.map((v, k) => ({ x: k * SAMPLE_STEP, y: v * 1000 })),
        borderColor: s.color,
        backgroundColor: s.color,
        borderWidth: 1.05,
        pointRadius: 0,
        tension: 0,
        fill: false,
        order: order[i],
      })),
    },
    options: {
      animation: false,
      responsive: false,
      devicePixelRatio: 1,
      events: [],
      layout: { padding: { left: 0, right: p.width - p.area.right, top: p.area.top, bottom: 0 } },
      plugins: { legend: { display: false }, tooltip: { enabled: false }, title: { display: false } },
      scales: {
        x: {
          type: "linear",
          min: p.xMin,
          max: p.xMax,
          afterBuildTicks: (s: any) => {
            s.ticks = p.xTicks.map((v) => ({ value: v }));
          },
          afterFit: (s: any) => {
            s.height = p.height - p.area.bottom;
          },
          ticks: {
            callback: (v: any) => String(v),
            font: { family: SERIF, size: 25.5 },
            color: "#000",
            padding: 3,
            maxRotation: 0,
            autoSkip: false,
          },
          grid: { display: true, drawOnChartArea: false, drawTicks: true, tickLength: 6, tickColor: AXIS_COLOR, tickWidth: 1.2 },
          border: { display: true, color: AXIS_COLOR, width: 1.3 },
        },
        y: {
          type: "linear",
          min: 0,
          max: 44000,
          afterBuildTicks: (s: any) => {
            s.ticks = forceTicks.map((v) => ({ value: v }));
          },
          afterFit: (s: any) => {
            s.width = p.area.left;
          },
          ticks: {
            callback: (v: any) => String(v),
            font: { family: SERIF, size: 25.5 },
            color: "#000",
            padding: 5,
            autoSkip: false,
          },
          grid: { display: true, drawOnChartArea: false, drawTicks: true, tickLength: 6, tickColor: AXIS_COLOR, tickWidth: 1.2 },
          border: { display: true, color: AXIS_COLOR, width: 1.3 },
        },
      },
    },
    plugins: [makeDecor(p)],
  };
}

function PanelChart({ panel }: { panel: Panel }) {
  const ref = useRef<HTMLCanvasElement | null>(null);
  useEffect(() => {
    if (!ref.current) return;
    const chart = new Chart(ref.current, buildConfig(panel));
    return () => chart.destroy();
  }, [panel]);
  return (
    <canvas
      ref={ref}
      width={panel.width}
      height={panel.height}
      style={{ position: "absolute", left: panel.left, top: 0, width: panel.width, height: panel.height }}
    />
  );
}

export default function App() {
  return (
    <div style={{ position: "absolute", left: 0, top: 0, width: 1187, height: 465, background: "#ffffff", overflow: "hidden" }}>
      <PanelChart panel={panelA} />
      <PanelChart panel={panelB} />
    </div>
  );
}
